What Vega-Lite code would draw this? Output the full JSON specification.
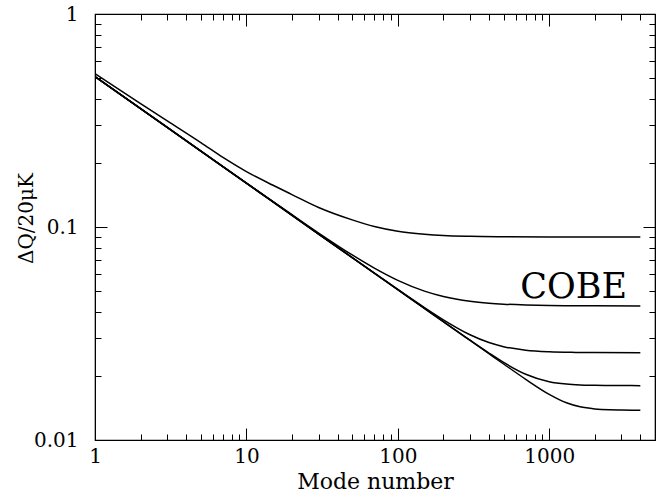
{
  "$schema": "https://vega.github.io/schema/vega-lite/v6.json",
  "width": 560,
  "height": 426,
  "autosize": "none",
  "padding": {"left": 95, "top": 14, "right": 1, "bottom": 56},
  "background": "white",
  "config": {
    "view": {"stroke": "black", "strokeWidth": 1.2},
    "axis": {
      "domainColor": "black",
      "tickColor": "black",
      "tickWidth": 1,
      "labelColor": "black",
      "titleColor": "black",
      "labelFont": "DejaVu Serif",
      "titleFont": "DejaVu Serif",
      "labelFontSize": 20,
      "titleFontWeight": "normal",
      "grid": false
    }
  },
  "datasets": {
    "curves": [
      {"x": 1, "y": 0.525, "c": "C1"}, {"x": 2, "y": 0.38, "c": "C1"}, {"x": 3, "y": 0.315, "c": "C1"}, {"x": 5, "y": 0.249, "c": "C1"}, {"x": 7, "y": 0.212, "c": "C1"}, {"x": 10, "y": 0.182, "c": "C1"}, {"x": 15, "y": 0.157, "c": "C1"}, {"x": 20, "y": 0.142, "c": "C1"}, {"x": 30, "y": 0.1235, "c": "C1"}, {"x": 50, "y": 0.108, "c": "C1"}, {"x": 70, "y": 0.1005, "c": "C1"}, {"x": 100, "y": 0.0955, "c": "C1"}, {"x": 150, "y": 0.0925, "c": "C1"}, {"x": 200, "y": 0.0912, "c": "C1"}, {"x": 300, "y": 0.0904, "c": "C1"}, {"x": 500, "y": 0.09, "c": "C1"}, {"x": 1000, "y": 0.0898, "c": "C1"}, {"x": 2000, "y": 0.0898, "c": "C1"}, {"x": 4000, "y": 0.0898, "c": "C1"},

      {"x": 1, "y": 0.508, "c": "C2"}, {"x": 3, "y": 0.2933, "c": "C2"}, {"x": 10, "y": 0.1608, "c": "C2"}, {"x": 20, "y": 0.1142, "c": "C2"}, {"x": 30, "y": 0.0937, "c": "C2"}, {"x": 50, "y": 0.0739, "c": "C2"}, {"x": 70, "y": 0.0641, "c": "C2"}, {"x": 100, "y": 0.05617, "c": "C2"}, {"x": 150, "y": 0.05001, "c": "C2"}, {"x": 200, "y": 0.04719, "c": "C2"}, {"x": 300, "y": 0.04481, "c": "C2"}, {"x": 400, "y": 0.04389, "c": "C2"}, {"x": 500, "y": 0.04344, "c": "C2"}, {"x": 700, "y": 0.04304, "c": "C2"}, {"x": 1000, "y": 0.04281, "c": "C2"}, {"x": 1500, "y": 0.0427, "c": "C2"}, {"x": 2000, "y": 0.04264, "c": "C2"}, {"x": 4000, "y": 0.0426, "c": "C2"},

      {"x": 1, "y": 0.508, "c": "C3"}, {"x": 3, "y": 0.2933, "c": "C3"}, {"x": 10, "y": 0.1606, "c": "C3"}, {"x": 30, "y": 0.0927, "c": "C3"}, {"x": 50, "y": 0.07183, "c": "C3"}, {"x": 70, "y": 0.06076, "c": "C3"}, {"x": 100, "y": 0.05094, "c": "C3"}, {"x": 150, "y": 0.04186, "c": "C3"}, {"x": 200, "y": 0.03668, "c": "C3"}, {"x": 300, "y": 0.03121, "c": "C3"}, {"x": 400, "y": 0.02868, "c": "C3"}, {"x": 500, "y": 0.02743, "c": "C3"}, {"x": 700, "y": 0.0264, "c": "C3"}, {"x": 1000, "y": 0.02595, "c": "C3"}, {"x": 1500, "y": 0.02578, "c": "C3"}, {"x": 2000, "y": 0.02573, "c": "C3"}, {"x": 4000, "y": 0.0257, "c": "C3"},

      {"x": 1, "y": 0.508, "c": "C4"}, {"x": 3, "y": 0.2933, "c": "C4"}, {"x": 10, "y": 0.1606, "c": "C4"}, {"x": 30, "y": 0.0927, "c": "C4"}, {"x": 100, "y": 0.0508, "c": "C4"}, {"x": 150, "y": 0.04149, "c": "C4"}, {"x": 200, "y": 0.03594, "c": "C4"}, {"x": 300, "y": 0.0294, "c": "C4"}, {"x": 400, "y": 0.0256, "c": "C4"}, {"x": 500, "y": 0.02313, "c": "C4"}, {"x": 700, "y": 0.02036, "c": "C4"}, {"x": 1000, "y": 0.01878, "c": "C4"}, {"x": 1300, "y": 0.0183, "c": "C4"}, {"x": 1600, "y": 0.01813, "c": "C4"}, {"x": 2000, "y": 0.01806, "c": "C4"}, {"x": 3000, "y": 0.01801, "c": "C4"}, {"x": 4000, "y": 0.018, "c": "C4"},

      {"x": 1, "y": 0.508, "c": "C5"}, {"x": 3, "y": 0.2933, "c": "C5"}, {"x": 10, "y": 0.1606, "c": "C5"}, {"x": 30, "y": 0.0927, "c": "C5"}, {"x": 100, "y": 0.0508, "c": "C5"}, {"x": 300, "y": 0.02933, "c": "C5"}, {"x": 400, "y": 0.02541, "c": "C5"}, {"x": 500, "y": 0.02274, "c": "C5"}, {"x": 700, "y": 0.01927, "c": "C5"}, {"x": 1000, "y": 0.01638, "c": "C5"}, {"x": 1300, "y": 0.01495, "c": "C5"}, {"x": 1600, "y": 0.01431, "c": "C5"}, {"x": 2000, "y": 0.01399, "c": "C5"}, {"x": 2500, "y": 0.01386, "c": "C5"}, {"x": 3000, "y": 0.01383, "c": "C5"}, {"x": 4000, "y": 0.0138, "c": "C5"}
    ],
    "labels": [
      {"x": 644, "y": 0.0464, "text": "COBE"}
    ]
  },
  "resolve": {"axis": {"x": "independent", "y": "independent"}},
  "layer": [
    {
      "data": {"name": "curves"},
      "mark": {"type": "line", "color": "black", "strokeWidth": 1.5, "interpolate": "monotone", "clip": true},
      "encoding": {
        "x": {
          "field": "x", "type": "quantitative",
          "scale": {"type": "log", "domain": [1, 5000], "nice": false},
          "axis": {
            "orient": "bottom",
            "title": "Mode number",
            "titleFontSize": 22,
            "titlePadding": 5,
            "values": [1, 10, 100, 1000],
            "format": "d",
            "tickSize": -12,
            "labelPadding": 18,
            "labelFlush": false,
            "labelOverlap": false
          }
        },
        "y": {
          "field": "y", "type": "quantitative",
          "scale": {"type": "log", "domain": [0.01, 1], "nice": false},
          "axis": {
            "orient": "left",
            "title": "ΔQ/20μK",
            "titleFontSize": 20,
            "titleX": -59,
            "titleY": 204,
            "titleAlign": "center",
            "titleBaseline": "bottom",
            "values": [0.01, 0.1, 1],
            "format": "~g",
            "tickSize": -12,
            "labelPadding": 29,
            "labelFlush": false,
            "labelOverlap": false
          }
        },
        "detail": {"field": "c", "type": "nominal"}
      }
    },
    {
      "data": {"name": "labels"},
      "mark": {"type": "text", "font": "DejaVu Serif", "fontSize": 35, "align": "left", "baseline": "alphabetic", "color": "black"},
      "encoding": {
        "x": {
          "field": "x", "type": "quantitative",
          "scale": {"type": "log", "domain": [1, 5000], "nice": false},
          "axis": {"orient": "top", "title": null, "values": [1, 10, 100, 1000], "tickSize": -12, "labels": false}
        },
        "y": {
          "field": "y", "type": "quantitative",
          "scale": {"type": "log", "domain": [0.01, 1], "nice": false},
          "axis": {"orient": "right", "title": null, "values": [0.01, 0.1, 1], "tickSize": -12, "labels": false}
        },
        "text": {"field": "text"}
      }
    },
    {
      "data": {"name": "labels"},
      "mark": {"type": "point", "opacity": 0},
      "encoding": {
        "x": {
          "field": "x", "type": "quantitative",
          "scale": {"type": "log", "domain": [1, 5000], "nice": false},
          "axis": {"orient": "bottom", "title": null, "values": [2,3,4,5,6,7,8,9,20,30,40,50,60,70,80,90,200,300,400,500,600,700,800,900,2000,3000,4000], "tickSize": -6, "labels": false, "domain": false}
        },
        "y": {
          "field": "y", "type": "quantitative",
          "scale": {"type": "log", "domain": [0.01, 1], "nice": false},
          "axis": {"orient": "left", "title": null, "values": [0.02,0.03,0.04,0.05,0.06,0.07,0.08,0.09,0.2,0.3,0.4,0.5,0.6,0.7,0.8,0.9], "tickSize": -6, "labels": false, "domain": false}
        }
      }
    },
    {
      "data": {"name": "labels"},
      "mark": {"type": "point", "opacity": 0},
      "encoding": {
        "x": {
          "field": "x", "type": "quantitative",
          "scale": {"type": "log", "domain": [1, 5000], "nice": false},
          "axis": {"orient": "top", "title": null, "values": [2,3,4,5,6,7,8,9,20,30,40,50,60,70,80,90,200,300,400,500,600,700,800,900,2000,3000,4000], "tickSize": -6, "labels": false, "domain": false}
        },
        "y": {
          "field": "y", "type": "quantitative",
          "scale": {"type": "log", "domain": [0.01, 1], "nice": false},
          "axis": {"orient": "right", "title": null, "values": [0.02,0.03,0.04,0.05,0.06,0.07,0.08,0.09,0.2,0.3,0.4,0.5,0.6,0.7,0.8,0.9], "tickSize": -6, "labels": false, "domain": false}
        }
      }
    }
  ]
}
